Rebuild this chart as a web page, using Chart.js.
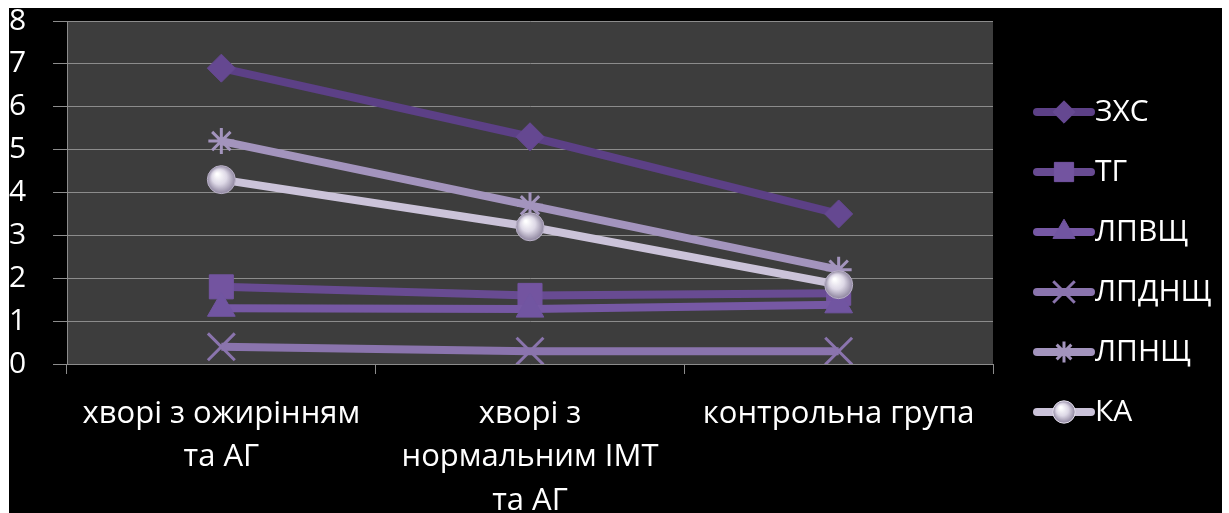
<!DOCTYPE html>
<html>
<head>
<meta charset="utf-8">
<script src="https://cdn.jsdelivr.net/npm/chart.js@4/dist/chart.umd.min.js"></script>
<style>
  html, body { margin: 0; padding: 0; background: #fff; }
  #wrap { position: absolute; left: 9px; top: 8px; width: 1213px; height: 505px; background: #000; }
</style>
</head>
<body>
<div id="wrap"><canvas id="graphique"></canvas></div>
<script>
// Données du graphique
const categories = [
    ['хворі з ожирінням', 'та АГ'],
    ['хворі з', 'нормальним ІМТ', 'та АГ'],
    'контрольна група'
];
const series = ['ЗХС', 'ТГ', 'ЛПВЩ', 'ЛПДНЩ', 'ЛПНЩ', 'КА'];
const zxs   = [6.9, 5.3, 3.5];
const tg    = [1.8, 1.6, 1.65];
const lpvsh = [1.3, 1.28, 1.38];
const lpdnsh = [0.4, 0.3, 0.3];
const lpnsh = [5.2, 3.7, 2.2];
const ka    = [4.3, 3.2, 1.85];
const yTicks = [0, 1, 2, 3, 4, 5, 6, 7, 8];

const valeurs = [zxs, tg, lpvsh, lpdnsh, lpnsh, ka];
const couleurs = ['#5c4086', '#684b92', '#7658a4', '#8a74ad', '#a394bd', '#cbc3d9'];
const marqueurs = ['rectRot', 'rect', 'triangle', 'crossRot', 'star', 'circle'];
const tailles = [14, 17, 16, 19, 13, 14];
const remplissages = ['#654891', '#7354a0', '#7155a1', '#8a74ad', '#a394bd', '#e6e2ee'];

// Dégradé pour la bille (série КА)
function bille(ctx, x, y, r) {
    const g = ctx.createRadialGradient(x - r * 0.3, y - r * 0.4, 1, x, y, r);
    g.addColorStop(0, '#ffffff');
    g.addColorStop(0.5, '#ddd8e6');
    g.addColorStop(1, '#8e859f');
    return g;
}

// Fond de la zone de tracé
const fondZone = {
    id: 'fondZone',
    beforeDraw(chart) {
        const a = chart.chartArea, ctx = chart.ctx;
        ctx.save();
        ctx.fillStyle = '#3d3d3d';
        ctx.fillRect(a.left, a.top, a.right - a.left, a.bottom - a.top);
        ctx.restore();
    }
};

// Légende à droite (ligne + marqueur)
const legende = {
    id: 'legende',
    afterDraw(chart) {
        const ctx = chart.ctx;
        ctx.save();
        series.forEach((nom, i) => {
            const y = 104 + i * 60;
            const r = tailles[i] * 0.8;
            ctx.strokeStyle = couleurs[i];
            ctx.lineWidth = 8;
            ctx.lineCap = 'round';
            ctx.beginPath();
            ctx.moveTo(1028, y);
            ctx.lineTo(1082, y);
            ctx.stroke();
            ctx.fillStyle = i === 5 ? bille(ctx, 1055, y, r) : remplissages[i];
            ctx.strokeStyle = i === 3 || i === 4 ? couleurs[i] : remplissages[i];
            ctx.lineWidth = i === 3 || i === 4 ? 3 : 1;
            ctx.lineCap = 'butt';
            Chart.helpers.drawPoint(ctx, {
                pointStyle: marqueurs[i], radius: r, rotation: 0, borderWidth: ctx.lineWidth
            }, 1055, y);
            ctx.fillStyle = '#ffffff';
            ctx.font = '30px "Open Sans"';
            ctx.textBaseline = 'middle';
            ctx.fillText(nom, 1086, y);
        });
        ctx.restore();
    }
};

document.addEventListener('DOMContentLoaded', function() {
    const ctx = document.getElementById('graphique').getContext('2d');
    new Chart(ctx, {
        type: 'line',
        data: {
            labels: categories,
            datasets: series.map((nom, i) => ({
                label: nom,
                data: valeurs[i],
                borderColor: couleurs[i],
                borderWidth: 8,
                pointStyle: marqueurs[i],
                pointRadius: tailles[i],
                pointBackgroundColor: i !== 5 ? remplissages[i] : function(c) {
                    const ch = c.chart;
                    if (!ch.scales.x || !c.parsed) return remplissages[i];
                    const x = ch.scales.x.getPixelForValue(c.dataIndex);
                    const y = ch.scales.y.getPixelForValue(c.parsed.y);
                    if (!isFinite(x) || !isFinite(y)) return remplissages[i];
                    return bille(ch.ctx, x, y, tailles[i]);
                },
                pointBorderColor: i === 3 || i === 4 ? couleurs[i] : (i === 5 ? '#b8b0c6' : remplissages[i]),
                pointBorderWidth: i === 3 || i === 4 ? 3 : 1,
                order: series.length - i,
                tension: 0
            }))
        },
        options: {
            responsive: true,
            maintainAspectRatio: false,
            animation: false,
            layout: { autoPadding: false, padding: { top: 13, right: 229, bottom: 0, left: 0 } },
            plugins: {
                legend: { display: false },
                tooltip: { enabled: false }
            },
            scales: {
                x: {
                    offset: true,
                    afterFit: s => { s.height = 149; s.paddingLeft = 0; s.paddingRight = 0; },
                    grid: { offset: true, drawOnChartArea: false, color: '#8c8c8c', tickLength: 10 },
                    border: { color: '#8c8c8c' },
                    ticks: {
                        color: '#ffffff',
                        padding: 19,
                        maxRotation: 0,
                        autoSkip: false,
                        font: { family: 'Open Sans', size: 31, lineHeight: 1.39 }
                    }
                },
                y: {
                    min: yTicks[0],
                    max: yTicks[yTicks.length - 1],
                    afterFit: s => { s.width = 58; s.paddingTop = 0; s.paddingBottom = 0; },
                    afterBuildTicks: s => { s.ticks = yTicks.map(v => ({ value: v })); },
                    grid: { color: '#8c8c8c', tickLength: 14 },
                    border: { color: '#8c8c8c' },
                    ticks: {
                        color: '#ffffff',
                        crossAlign: 'far',
                        font: { family: 'Open Sans', size: 30 }
                    }
                }
            }
        },
        plugins: [fondZone, legende]
    });
});
</script>
</body>
</html>
